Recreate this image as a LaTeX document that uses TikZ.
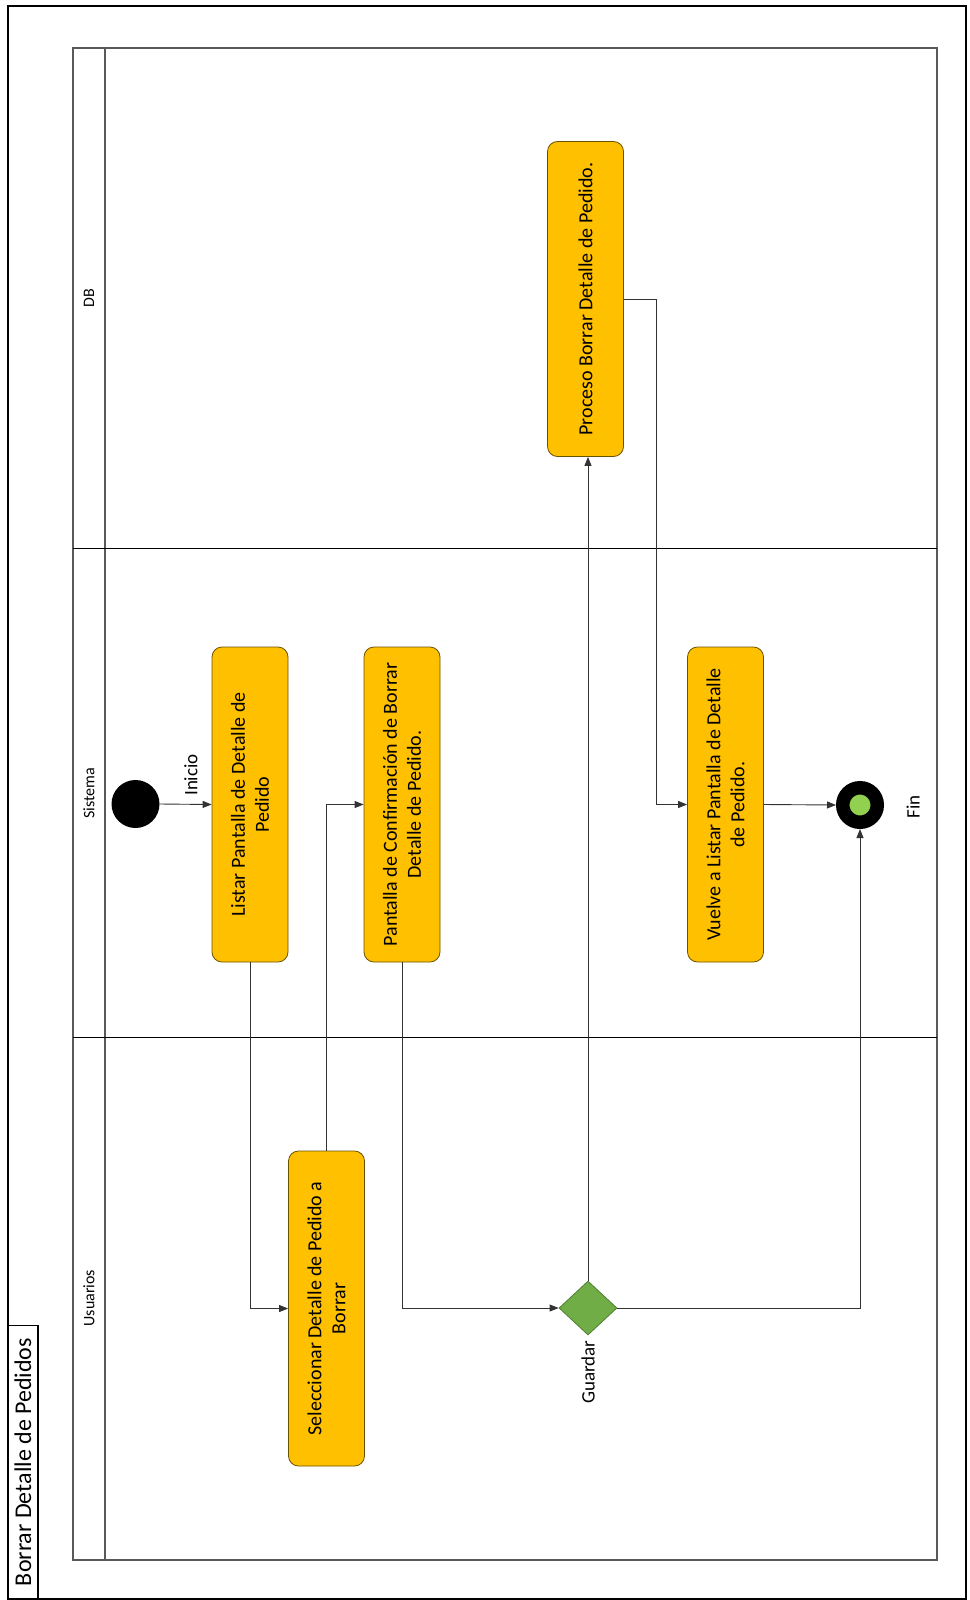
\documentclass[tikz,border=0pt]{standalone}
\usepackage{fontspec}
\setmainfont{Carlito}
\usetikzlibrary{positioning,arrows.meta,shapes.geometric}

\definecolor{actfill}{HTML}{FFC000}
\definecolor{actline}{HTML}{6B5200}
\definecolor{decfill}{HTML}{70AD47}
\definecolor{decline}{HTML}{507E32}
\definecolor{endfill}{HTML}{92D050}
\definecolor{laneline}{HTML}{595959}

\begin{document}
\begin{tikzpicture}[
  x=1pt, y=-1pt,
  act/.style={draw=actline, fill=actfill, rounded corners=10pt, rotate=90,
              minimum width=315pt, minimum height=76pt, align=center,
              font=\fontsize{20}{24}\selectfont, inner sep=4pt, line width=0.8pt},
  decision/.style={diamond, draw=decline, fill=decfill, line width=0.8pt,
                   minimum width=58pt, minimum height=54pt, inner sep=0pt},
  lbl/.style={rotate=90, font=\fontsize{19}{23}\selectfont},
  lanelbl/.style={rotate=90, font=\fontsize{16}{19}\selectfont},
  arr/.style={-{Triangle[length=9pt,width=7pt]}, draw=black!80, line width=0.9pt}
]
\useasboundingbox (0,0) rectangle (969,1600);

% marco y titulo
\draw[line width=1.2pt] (8,6) -- (966,6) -- (966,1599) -- (8,1599) -- cycle;
\draw[line width=1pt] (8,1325) -- (38,1325);
\draw[line width=2.5pt] (38,1325) -- (38,1599);
\node[rotate=90, font=\fontsize{24}{28}\selectfont] (titulo) at (23,1462) {Borrar Detalle de Pedidos};

% carriles
\draw[laneline, line width=1.3pt] (73,48) rectangle (937,1560);
\draw[laneline, line width=1.3pt] (105,48) -- (105,1560);
\draw[black, line width=1pt] (73,548) -- (937,548);
\draw[black, line width=1pt] (73,1037) -- (937,1037);
\node[lanelbl] (db) at (89,298) {DB};
\node[lanelbl] (sistema) at (89,793) {Sistema};
\node[lanelbl] (usuarios) at (89,1298) {Usuarios};

% nodos
\node[circle, fill=black, minimum size=48pt, inner sep=0pt] (ini) at (135.5,804) {};
\node[lbl] (inicio) at (191,775) {Inicio};
\node[act] (listar) at (250,804.5) {Listar Pantalla de Detalle de\\Pedido};
\node[act] (confirm) at (402,804.5) {Pantalla de Confirmación de Borrar\\Detalle de Pedido.};
\node[act] (vuelve) at (725.5,804.5) {Vuelve a Listar Pantalla de Detalle\\de Pedido.};
\node[act] (selec) at (326.5,1308.5) {Seleccionar Detalle de Pedido a\\Borrar};
\node[act] (proceso) at (585.5,299) {Proceso Borrar Detalle de Pedido.};
\node[decision] (guardar) at (588,1308) {};
\node[lbl] (guardarlbl) at (588,1372) {Guardar};
\node[circle, draw=black, line width=13.5pt, fill=endfill, minimum size=34.5pt, inner sep=0pt] (fin) at (860,805) {};
\node[lbl] (finlbl) at (913,807) {Fin};

% flujos
\draw[arr] (ini.east) -- (listar.north);
\draw[arr] (listar.west) |- (selec.north);
\draw[arr] (selec.east) |- (confirm.north);
\draw[arr] (confirm.west) |- (guardar.west);
\draw[arr] (guardar.north) -- (guardar.north |- proceso.west);
\draw[arr] (proceso.south) -- ++(33,0) |- (vuelve.north);
\draw[arr] (vuelve.south) -- (fin.west);
\draw[arr] (guardar.east) -| (fin.south);
\end{tikzpicture}
\end{document}
